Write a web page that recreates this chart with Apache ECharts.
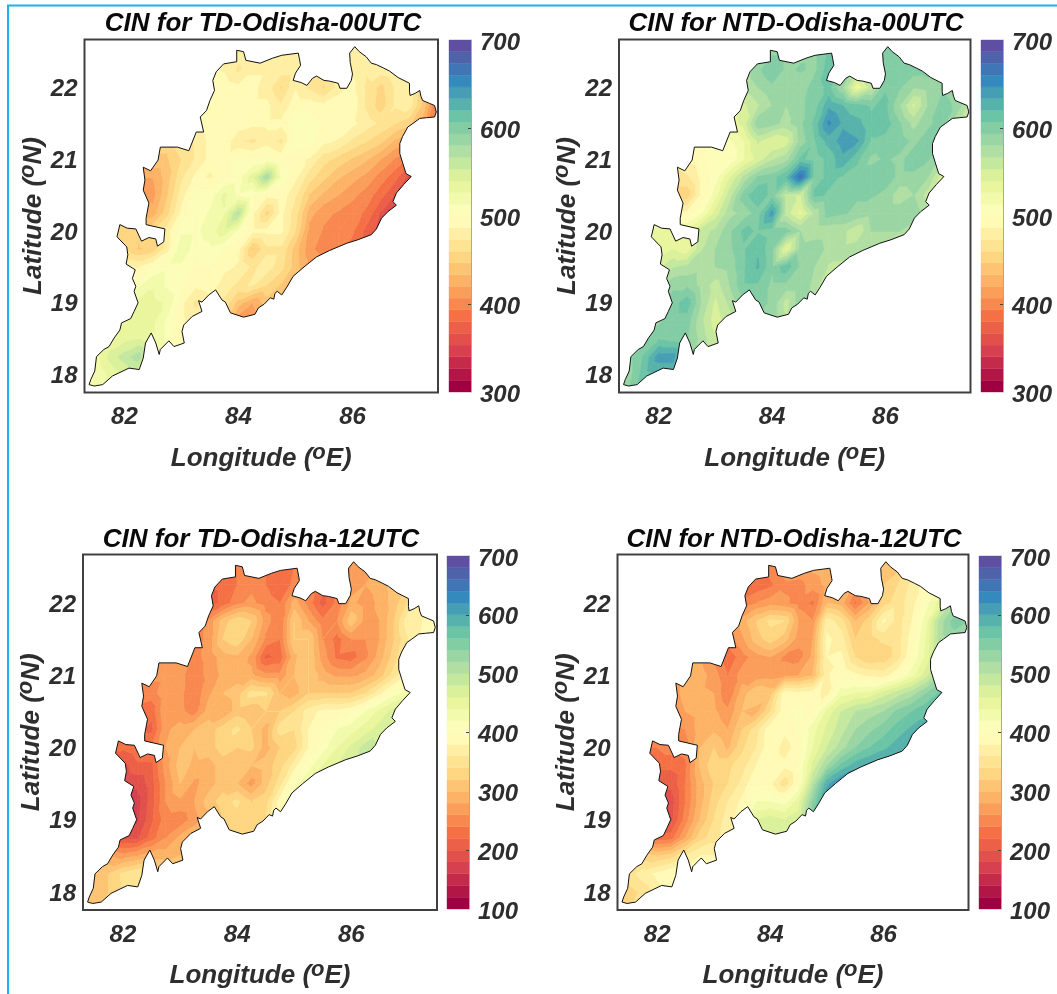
<!DOCTYPE html>
<html>
<head>
<meta charset="utf-8">
<style>html,body{margin:0;background:#fff}#main{width:1057px;height:994px}</style>
<script src="https://cdn.jsdelivr.net/npm/echarts@6/dist/echarts.min.js"></script>
</head>
<body>
<div id="main"></div>
<script>
// state boundary, lon/lat
const boundary = [[81.38,17.86],[81.41,17.93],[81.48,18.05],[81.51,18.25],[81.64,18.35],[81.73,18.39],[81.82,18.51],[81.92,18.62],[81.95,18.72],[82.11,18.78],[82.17,18.88],[82.24,19.0],[82.17,19.16],[82.2,19.23],[82.14,19.34],[82.19,19.46],[82.03,19.54],[82.06,19.67],[82.04,19.78],[81.87,19.92],[81.92,20.09],[82.05,20.04],[82.2,20.03],[82.3,19.86],[82.43,19.91],[82.55,19.89],[82.58,19.79],[82.69,19.85],[82.71,20.03],[82.38,20.09],[82.38,20.18],[82.43,20.39],[82.33,20.57],[82.36,20.71],[82.33,20.89],[82.46,20.84],[82.59,20.99],[82.63,21.17],[82.93,21.17],[83.13,21.12],[83.26,21.38],[83.39,21.38],[83.33,21.59],[83.44,21.68],[83.5,21.82],[83.58,21.96],[83.55,22.1],[83.61,22.22],[83.74,22.33],[83.97,22.36],[83.97,22.52],[84.09,22.5],[84.13,22.38],[84.38,22.34],[84.6,22.41],[84.76,22.45],[85.05,22.48],[85.07,22.4],[85.09,22.31],[85.0,22.2],[84.96,22.1],[85.1,22.07],[85.2,22.03],[85.3,22.13],[85.37,22.16],[85.5,22.1],[85.6,22.09],[85.75,22.06],[85.78,21.99],[85.9,21.99],[85.98,22.1],[86.0,22.19],[85.96,22.35],[85.95,22.48],[86.04,22.57],[86.12,22.5],[86.24,22.43],[86.33,22.34],[86.42,22.32],[86.55,22.27],[86.65,22.23],[86.8,22.14],[87.0,22.06],[87.0,21.95],[87.01,21.89],[87.1,21.92],[87.18,21.96],[87.2,21.88],[87.23,21.82],[87.35,21.78],[87.44,21.75],[87.47,21.66],[87.44,21.59],[87.3,21.58],[87.18,21.57],[87.06,21.5],[86.97,21.45],[86.88,21.32],[86.83,21.22],[86.83,21.08],[86.88,20.95],[86.94,20.8],[87.03,20.76],[86.9,20.65],[86.77,20.53],[86.71,20.41],[86.77,20.36],[86.62,20.27],[86.51,20.18],[86.42,20.03],[86.33,19.95],[86.1,19.88],[85.9,19.83],[85.6,19.73],[85.37,19.64],[85.15,19.5],[84.96,19.37],[84.85,19.22],[84.76,19.11],[84.68,19.16],[84.64,19.13],[84.62,19.05],[84.56,19.07],[84.45,18.98],[84.35,18.93],[84.29,18.84],[84.09,18.8],[83.86,18.86],[83.77,19.01],[83.71,19.04],[83.6,19.18],[83.48,19.11],[83.36,19.01],[83.3,19.03],[83.36,18.88],[83.19,18.81],[83.04,18.69],[83.01,18.6],[83.05,18.44],[82.87,18.39],[82.78,18.47],[82.63,18.35],[82.61,18.28],[82.55,18.44],[82.47,18.58],[82.37,18.44],[82.33,18.23],[82.26,18.07],[82.08,18.09],[81.79,17.98],[81.62,17.86],[81.47,17.84]];

const lonTicks = [82, 84, 86];
const latTicks = [18, 19, 20, 21, 22];
const gridLats = [22.5,22.25,22,21.75,21.5,21.25,21,20.75,20.5,20.25,20,19.75,19.5,19.25,19,18.75,18.5,18.25,18];
const gridFirstLon = [83.75,83.5,83.5,83.5,83.25,83.25,82.5,82.25,82.25,82.25,81.75,82,82,82,82,81.75,81.75,81.5,81.25];

// CIN readings, one row per gridLats, starting at gridFirstLon, 0.25 deg apart
const cinTd00 = [
[490,480,485,485,485,480,480,480,480,485,480],
[490,485,470,485,485,480,480,475,475,480,485,475,480,485],
[495,495,490,490,480,458,485,470,458,478,490,470,455,475,480],
[500,500,498,490,490,475,495,495,490,498,495,470,452,475,480,440,380],
[500,495,498,495,490,490,490,510,505,498,495,490,480,470,460,450,425,400],
[475,490,495,475,470,480,470,510,505,490,485,470,460,450,430,420],
[445,445,460,475,490,495,505,500,505,495,490,485,465,455,445,435,420,405,390],
[420,420,440,470,490,485,495,505,535,580,510,490,465,450,435,425,415,400,385,360],
[410,415,445,480,505,505,530,510,500,490,495,475,445,430,420,410,400,385,365],
[430,425,455,490,505,515,525,570,490,455,490,465,425,410,405,400,390,365,360],
[450,450,450,460,480,510,510,520,535,510,490,490,490,460,415,405,402,395,375,360],
[460,445,450,480,525,505,510,500,490,445,470,470,440,410,400,395,390],
[490,485,500,510,510,495,500,490,485,470,480,465,440,420,410],
[505,510,525,510,500,490,495,480,470,475,460,445,430],
[520,530,530,525,490,470,480,470,440,420,440,445],
[515,525,530,530,510,490,480,480,450,410,410],
[530,535,540,525,510,490,480],
[520,545,560,575,530,510,500],
[510,515,530,540,540,530]
];
const cinNtd00 = [
[590,590,590,590,590,610,610,600,600,600,600],
[570,590,605,590,595,590,615,600,570,590,600,605,600,600],
[570,580,590,580,585,600,610,580,530,560,605,595,580,585,590],
[550,565,580,580,590,600,630,620,610,605,610,580,550,580,600,590,560],
[530,545,590,585,575,590,610,650,630,625,610,615,595,575,590,600,570,540],
[510,525,555,540,545,585,605,625,640,635,605,600,600,590,600,600],
[490,495,510,500,525,545,565,575,610,600,610,630,610,590,595,590,600,595,575],
[460,470,490,505,540,570,595,600,620,670,600,610,605,600,600,600,590,590,580,545],
[450,450,490,520,560,600,620,600,560,550,610,605,600,595,595,590,570,580,560],
[490,490,510,545,575,585,600,640,560,535,570,600,595,590,585,590,590,590,570],
[530,530,530,530,560,570,590,610,605,600,600,580,570,570,570,555,580,580,580,570],
[530,540,530,565,580,590,605,618,595,535,585,590,575,570,575,575,570],
[550,565,570,575,580,585,605,622,595,615,590,580,565,565,565],
[575,590,590,575,560,580,605,605,590,590,590,575,550],
[590,600,615,580,550,570,590,600,590,560,590,560],
[580,590,600,600,570,545,560,580,590,590,565],
[590,605,600,595,575,555,560],
[590,610,640,640,590,570,560],
[585,590,615,620,620,600]
];
const cinTd12 = [
[250,240,250,240,230,240,260,260,260,260,265],
[220,225,240,255,240,225,245,240,225,250,270,280,290,310],
[210,225,255,265,250,240,290,250,210,245,285,270,285,310,345],
[265,310,335,320,270,240,320,280,245,260,315,270,280,320,375,380,385],
[250,265,320,335,300,255,240,320,320,260,230,260,260,280,320,360,385,390],
[255,265,290,295,275,215,225,295,320,270,235,230,255,290,330,370],
[265,265,265,250,265,285,290,285,265,265,300,320,290,275,275,285,310,350,385],
[250,250,275,265,245,275,300,310,350,345,300,290,320,320,320,320,340,375,410,430],
[230,225,280,265,250,290,280,310,300,320,320,340,370,385,385,395,420,445,470],
[225,215,275,290,300,310,330,345,320,290,350,340,380,400,420,430,450,470,480],
[220,225,235,240,280,300,300,310,330,320,325,290,320,330,380,410,440,465,490,480],
[190,215,215,270,310,295,290,310,300,300,310,330,370,410,440,460,470],
[180,185,210,260,300,275,290,310,300,270,310,350,410,440,460],
[170,170,210,260,275,280,310,330,345,320,330,390,440],
[175,175,215,250,245,270,290,320,330,330,340,370],
[220,195,195,230,260,285,300,320,330,335,340],
[280,270,280,290,290,300,300],
[310,320,345,360,340,320,310],
[320,310,320,340,350,340]
];
const cinNtd12 = [
[260,250,270,280,285,290,290,300,300,300,310],
[240,225,235,255,250,270,285,280,270,300,320,340,365,390],
[245,260,270,265,250,235,300,290,235,280,330,350,370,410,450],
[290,320,345,340,280,260,370,350,300,330,385,350,380,430,510,550,540],
[250,275,310,330,310,270,280,385,370,320,330,345,350,390,440,510,530,530],
[225,250,270,280,255,250,285,380,385,340,320,325,350,400,445,500],
[285,290,270,240,270,265,270,275,280,300,375,400,385,375,370,395,430,470,520],
[265,290,285,280,240,290,320,310,390,385,390,370,430,440,445,470,490,510,540,565],
[255,280,290,285,265,300,290,340,395,405,395,445,480,500,510,520,545,560,575],
[255,260,290,295,280,320,350,395,385,400,430,465,490,520,535,550,570,585,590],
[240,240,250,250,300,320,295,335,360,395,370,390,440,480,510,540,560,575,590,590],
[225,225,235,300,335,335,350,380,395,385,400,465,520,565,590,600,610],
[205,205,240,290,320,340,365,400,385,345,400,500,595,625,630],
[190,190,240,290,330,360,385,420,420,410,450,540,615],
[200,195,250,300,340,370,390,460,470,460,470,560],
[260,225,230,280,330,350,370,420,470,480,480],
[330,320,330,360,380,380,380],
[350,370,385,400,390,390,390],
[340,330,345,370,385,380]
];

const panelTitles = ['CIN for TD-Odisha-00UTC','CIN for NTD-Odisha-00UTC','CIN for TD-Odisha-12UTC','CIN for NTD-Odisha-12UTC'];
const panelCin = [cinTd00, cinNtd00, cinTd12, cinNtd12];
const cinRanges = [[300,700],[300,700],[100,700],[100,700]];
const barTickValues = [[400,600],[400,600],[200,400,600],[200,400,600]];
const spectralStops = ['#9e0142','#d53e4f','#f46d43','#fdae61','#fee08b','#ffffbf','#e6f598','#abdda4','#66c2a5','#3288bd','#5e4fa2'];
const bandCount = 30;

// layout in page pixels
const boxes = [
  {l:84.5,t:39.5,r:438,b:392.5,bl:449,br:471,bt:40,bb:392,tx:263,ty:24},
  {l:619,t:39.5,r:970.5,b:392.5,bl:981,br:1003,bt:40,bb:392,tx:796,ty:24},
  {l:83,t:554.5,r:437,b:910,bl:447,br:469,bt:556,bb:909,tx:261,ty:540},
  {l:617.5,t:554.5,r:968.5,b:910,bl:979,br:1001,bt:556,bb:909,tx:794,ty:540}
];
const lonMin = 81.3, lonMax = 87.5, latMin = 17.75, latMax = 22.67;

function hexToRgb(h) { return [1,3,5].map(i => parseInt(h.substr(i,2),16)); }
function bandColor(i) {
  const p = i / (bandCount - 1) * (spectralStops.length - 1);
  const k = Math.min(Math.floor(p), spectralStops.length - 2), f = p - k;
  const a = hexToRgb(spectralStops[k]), b = hexToRgb(spectralStops[k+1]);
  return 'rgb(' + a.map((v,j) => Math.round(v + (b[j]-v)*f)).join(',') + ')';
}

// put the readings on a full lon/lat lattice; nodes with no reading lie outside
// the state and just take their neighbours' value (the mask hides them)
const cols = 26, rows = 21;
function buildLattice(cin) {
  const g = [];
  for (let r = 0; r < rows; r++) g.push(new Array(cols).fill(null));
  cin.forEach((row, i) => {
    const r = Math.round((gridLats[i] - 17.75) / 0.25);
    const c0 = Math.round((gridFirstLon[i] - 81.25) / 0.25);
    row.forEach((v, j) => { g[r][c0 + j] = v; });
  });
  let missing = true;
  while (missing) {
    missing = false;
    const next = g.map(a => a.slice());
    for (let r = 0; r < rows; r++) for (let c = 0; c < cols; c++) {
      if (g[r][c] !== null) continue;
      let s = 0, n = 0;
      for (let dr = -1; dr <= 1; dr++) for (let dc = -1; dc <= 1; dc++) {
        const v = (g[r+dr] || [])[c+dc];
        if (v !== null && v !== undefined) { s += v; n++; }
      }
      if (n) next[r][c] = s / n; else missing = true;
    }
    next.forEach((a, r) => { g[r] = a; });
  }
  return g;
}

function clipPoly(poly, level, keepAbove) {
  const out = [];
  for (let i = 0; i < poly.length; i++) {
    const a = poly[i], b = poly[(i+1) % poly.length];
    const ina = keepAbove ? a[2] >= level : a[2] <= level;
    const inb = keepAbove ? b[2] >= level : b[2] <= level;
    if (ina) out.push(a);
    if (ina !== inb) {
      const t = (level - a[2]) / (b[2] - a[2]);
      out.push([a[0]+(b[0]-a[0])*t, a[1]+(b[1]-a[1])*t, level]);
    }
  }
  return out;
}

// filled contour pieces for one panel
function contourPieces(cin, range) {
  const g = buildLattice(cin), step = (range[1]-range[0]) / bandCount, pieces = [];
  const node = (r, c) => [81.25 + c*0.25, 17.75 + r*0.25, g[r][c]];
  function addTri(tri) {
    const vs = tri.map(p => p[2]);
    const k0 = Math.max(0, Math.floor((Math.min(...vs)-range[0]) / step));
    const k1 = Math.min(bandCount-1, Math.floor((Math.max(...vs)-range[0]) / step));
    for (let k = k0; k <= k1; k++) {
      let p = clipPoly(tri, range[0]+k*step, true);
      if (p.length) p = clipPoly(p, range[0]+(k+1)*step, false);
      if (p.length > 2) pieces.push({band:k, points:p});
    }
  }
  for (let r = 0; r < rows-1; r++) for (let c = 0; c < cols-1; c++) {
    addTri([node(r,c), node(r,c+1), node(r+1,c+1)]);
    addTri([node(r,c), node(r+1,c+1), node(r+1,c)]);
  }
  return pieces;
}

const grid = [], xAxis = [], yAxis = [], series = [], title = [];
const axisFont = {fontFamily:'Liberation Sans', fontWeight:'bold', fontStyle:'italic', color:'#2e2e2e'};
const nameRich = {
  t:Object.assign({fontSize:26, lineHeight:30, verticalAlign:'bottom', padding:[6,0,0,0]}, axisFont),
  s:Object.assign({fontSize:22, lineHeight:20, verticalAlign:'top'}, axisFont)
};
// nudged labels: the extra top padding moves the digits down by half of it
const tickLabel = (margin, pad, extra) => Object.assign({
  margin, formatter:v => '{v|' + v + '}',
  rich:{v:Object.assign({fontSize:24, lineHeight:24, padding:[pad,0,0,0]}, axisFont)}
}, extra);

boxes.forEach((b, p) => {
  const range = cinRanges[p], pieces = contourPieces(panelCin[p], range);
  const step = (range[1]-range[0]) / bandCount;
  title.push({text:panelTitles[p], left:b.tx, top:b.ty, textAlign:'center', textVerticalAlign:'middle', padding:0,
    textStyle:{fontFamily:'Liberation Sans', fontWeight:'bold', fontStyle:'italic', fontSize:26, color:'#0a0a0a'}});

  grid.push({left:b.l, top:b.t, width:b.r-b.l, height:b.b-b.t, show:true, z:6, borderColor:'#404040', borderWidth:2, backgroundColor:'transparent'});
  xAxis.push({type:'value', gridIndex:p*2, min:lonMin, max:lonMax, splitLine:{show:false}, axisLine:{show:false}, axisTick:{show:false},
    axisLabel:tickLabel(13, 0, {customValues:lonTicks}),
    name:'{t|Longitude (}{s|o}{t|E)}', nameLocation:'middle', nameGap:49, nameTextStyle:{rich:nameRich}});
  yAxis.push({type:'value', gridIndex:p*2, min:latMin, max:latMax, splitLine:{show:false}, axisLine:{show:false}, axisTick:{show:false},
    axisLabel:tickLabel(7, 4, {customValues:latTicks}),
    name:'{t|Latitude (}{s|o}{t|N)}', nameLocation:'middle', nameGap:38, nameTextStyle:{rich:nameRich}});

  // colour bar
  grid.push({left:b.bl, top:b.bt, width:b.br-b.bl, height:b.bb-b.bt});
  xAxis.push({type:'value', gridIndex:p*2+1, min:0, max:1, show:false});
  yAxis.push({type:'value', gridIndex:p*2+1, position:'right', min:range[0], max:range[1], interval:100, splitLine:{show:false},
    axisLine:{show:true, onZero:false, lineStyle:{color:'#a8a8a8', width:1}},
    axisTick:{show:true, inside:true, length:3, customValues:barTickValues[p], lineStyle:{color:'#444'}},
    axisLabel:tickLabel(9, 6, {}), z:5});

  const ax = {xAxisIndex:p*2, yAxisIndex:p*2};
  series.push(Object.assign({type:'custom', clip:true, silent:true, animation:false, progressive:0, z:2,
    data:pieces.map((q,i) => [q.points[0][0], q.points[0][1], i]), encode:{x:0, y:1},
    renderItem:(params, api) => {
      const q = pieces[api.value(2)], c = bandColor(q.band);
      return {type:'polygon', shape:{points:q.points.map(v => api.coord([v[0],v[1]]))}, style:{fill:c, stroke:c, lineWidth:0.7}};
    }}, ax));
  // white outside the state
  series.push(Object.assign({type:'custom', clip:true, silent:true, animation:false, z:3,
    data:[[lonMin, latMin]], encode:{x:0, y:1},
    renderItem:(params, api) => {
      const corners = [[lonMin,latMin],[lonMin,latMax],[lonMax,latMax],[lonMax,latMin],[lonMin,latMin]];
      const ring = [boundary[0]].concat(boundary.slice(1).reverse(), [boundary[0]]);
      return {type:'polygon', shape:{points:corners.concat(ring).map(v => api.coord(v))}, style:{fill:'#fff'}};
    }}, ax));
  series.push(Object.assign({type:'line', data:boundary.concat([boundary[0]]), showSymbol:false, silent:true, animation:false, z:4,
    lineStyle:{color:'#111', width:1}}, ax));
  series.push({type:'custom', xAxisIndex:p*2+1, yAxisIndex:p*2+1, silent:true, animation:false, z:2,
    data:Array.from({length:bandCount}, (_, i) => [0, range[0]+i*step, i]), encode:{x:0, y:1},
    renderItem:(params, api) => {
      const i = api.value(2), a = api.coord([0, range[0]+i*step]), c = api.coord([1, range[0]+(i+1)*step]);
      return {type:'rect', shape:{x:a[0], y:c[1], width:c[0]-a[0], height:a[1]-c[1]}, style:{fill:bandColor(i), stroke:bandColor(i), lineWidth:0.4}};
    }});
});

const chart = echarts.init(document.getElementById('main'));
chart.setOption({
  animation:false, backgroundColor:'#fff', title, grid, xAxis, yAxis, series,
  graphic:[
    {type:'polyline', shape:{points:[[8,994],[8,5.5],[1057,5.5]]}, style:{stroke:'#1cb1ea', lineWidth:2, fill:null}, silent:true}
  ]
});
</script>
</body>
</html>
